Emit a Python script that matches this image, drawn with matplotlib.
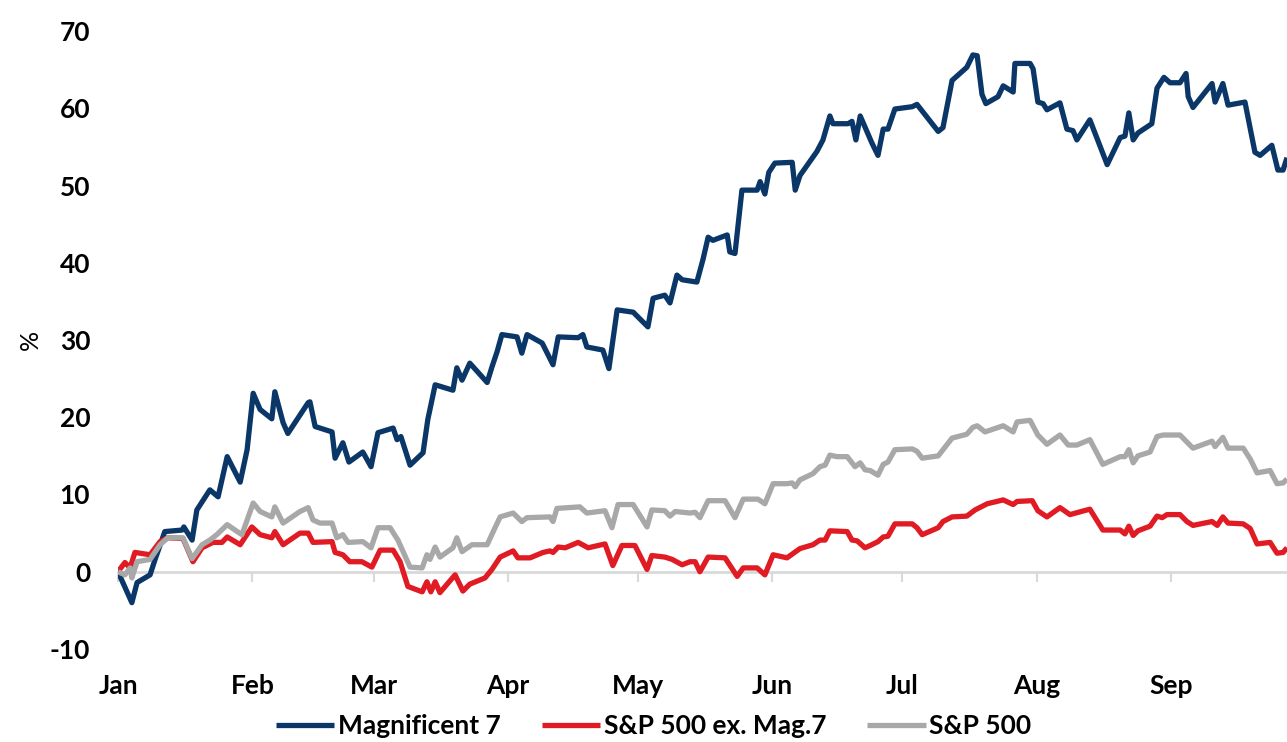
import numpy as np
import pandas as pd
import matplotlib.pyplot as plt
import matplotlib.transforms as mtransforms

plt.rcParams['font.family'] = ['Lato', 'DejaVu Sans']
plt.rcParams['axes.unicode_minus'] = False

# (days since 1 Jan 2023, % change YTD)
mag7 = [(0, 0.0), (3.2, -4.0), (4.4, -1.4), (7.4, -0.4), (8.5, 1.5), (10.8, 5.2), (14.8, 5.4), (15.2, 5.8),
        (17.1, 4.1), (18.2, 8.0), (21.2, 10.6), (23.1, 9.7), (25.2, 14.9), (28.2, 11.6), (29.8, 15.8),
        (31.2, 23.1), (32.8, 21.0), (35.5, 19.8), (36.2, 23.3), (38.1, 19.3), (39.2, 17.9), (43.9, 21.9),
        (44.3, 22.0), (45.5, 18.8), (49.4, 18.1), (50.1, 14.7), (51.9, 16.7), (53.3, 14.2), (56.5, 15.5),
        (58.4, 13.6), (60.0, 18.0), (63.5, 18.6), (64.4, 17.1), (65.3, 17.5), (67.4, 13.8), (70.4, 15.4),
        (71.5, 19.7), (73.2, 24.2), (77.3, 23.5), (78.2, 26.4), (79.4, 24.8), (81.2, 27.0), (85.2, 24.5),
        (86.3, 26.5), (87.5, 28.5), (88.6, 30.7), (92.1, 30.4), (93.2, 28.3), (94.4, 30.7), (97.9, 29.6),
        (100.4, 26.8), (101.6, 30.4), (106.2, 30.3), (107.3, 30.7), (108.2, 29.1), (111.9, 28.7),
        (113.3, 26.3), (115.2, 33.9), (118.9, 33.6), (122.3, 31.7), (123.5, 35.4), (126.2, 35.8),
        (127.4, 34.8), (129.0, 38.4), (130.2, 37.8), (133.6, 37.5), (135.0, 40.4), (136.2, 43.3),
        (137.3, 42.9), (140.6, 43.6), (141.2, 41.4), (142.4, 41.2), (144.0, 49.4), (147.5, 49.4),
        (148.2, 50.5), (149.3, 48.9), (150.2, 51.7), (151.6, 52.9), (155.6, 53.0), (156.3, 49.4),
        (157.4, 51.3), (161.3, 54.4), (162.7, 55.9), (164.3, 59.0), (165.0, 58.0), (168.5, 58.0),
        (169.4, 58.3), (170.3, 55.9), (171.3, 59.0), (174.0, 55.5), (175.4, 53.9), (176.6, 57.3),
        (177.7, 57.3), (179.3, 59.9), (183.3, 60.2), (184.4, 60.5), (189.3, 57.0), (190.4, 57.5),
        (192.5, 63.6), (195.9, 65.3), (197.3, 66.9), (198.3, 66.8), (199.4, 61.8), (200.3, 60.6),
        (203.1, 61.5), (204.3, 62.9), (206.6, 62.1), (207.0, 65.8), (210.5, 65.8), (211.2, 65.1),
        (212.3, 60.8), (213.5, 60.6), (214.4, 59.8), (217.4, 60.7), (219.0, 57.3), (220.4, 57.1),
        (221.3, 55.9), (224.3, 58.5), (228.3, 52.7), (231.3, 56.2), (232.4, 56.4), (233.3, 59.4),
        (234.3, 55.9), (235.4, 56.8), (238.6, 58.0), (239.8, 62.6), (241.4, 64.0), (242.8, 63.3),
        (245.1, 63.3), (246.5, 64.5), (247.0, 61.5), (248.1, 60.1), (252.5, 63.2), (253.2, 60.8),
        (255.0, 63.2), (256.2, 60.4), (260.1, 60.8), (262.4, 54.3), (263.6, 53.9), (266.3, 55.2),
        (267.7, 52.0), (268.9, 52.0), (269.8, 53.6)]

sp500_ex_mag7 = [(0, 0.0), (1.6, 1.2), (2.8, 0.5), (3.9, 2.5), (7.4, 2.2), (9.7, 3.9), (11.5, 4.4), (15.0, 4.3),
                 (17.3, 1.3), (19.4, 3.1), (21.9, 3.8), (24.0, 3.8), (25.2, 4.5), (28.2, 3.5), (30.9, 5.8),
                 (32.8, 4.8), (35.5, 4.4), (36.2, 5.2), (38.1, 3.5), (42.0, 5.0), (43.9, 5.0), (45.0, 3.8),
                 (49.4, 3.9), (50.1, 2.5), (51.9, 2.2), (53.5, 1.3), (56.3, 1.3), (58.6, 0.6), (60.5, 2.8),
                 (63.5, 2.8), (65.1, 1.3), (66.9, -1.9), (70.2, -2.6), (71.3, -1.3), (72.2, -2.6), (73.2, -1.3),
                 (74.3, -2.7), (77.8, -0.4), (79.6, -2.5), (81.2, -1.6), (84.7, -0.8), (86.3, 0.3), (88.2, 1.9),
                 (91.2, 2.7), (92.3, 1.8), (95.1, 1.8), (98.1, 2.5), (99.7, 2.7), (100.4, 2.5), (101.6, 3.2),
                 (103.2, 3.1), (106.2, 3.8), (108.5, 3.1), (112.4, 3.6), (114.2, 0.8), (116.3, 3.4),
                 (119.3, 3.4), (122.1, 0.3), (123.2, 2.1), (126.2, 1.9), (127.9, 1.6), (130.2, 0.9),
                 (132.0, 1.3), (133.2, 1.3), (134.3, 0.0), (136.2, 1.9), (140.1, 1.8), (142.9, -0.6),
                 (144.3, 0.5), (147.5, 0.5), (149.3, -0.4), (151.2, 2.2), (154.4, 1.8), (157.4, 3.0),
                 (160.4, 3.5), (162.0, 4.1), (163.2, 4.1), (164.3, 5.3), (168.3, 5.2), (169.4, 4.1),
                 (170.6, 4.0), (172.4, 3.1), (173.6, 3.4), (175.4, 3.9), (176.6, 4.5), (177.7, 4.6),
                 (179.3, 6.2), (183.3, 6.2), (184.4, 5.7), (185.6, 4.8), (189.3, 5.7), (190.4, 6.5),
                 (192.5, 7.1), (195.9, 7.2), (197.8, 8.0), (200.6, 8.8), (204.3, 9.3), (206.6, 8.7),
                 (207.5, 9.1), (211.0, 9.2), (212.3, 7.9), (214.4, 7.1), (217.4, 8.3), (219.7, 7.4),
                 (224.3, 8.1), (227.3, 5.4), (231.3, 5.4), (232.4, 4.9), (233.3, 5.9), (234.3, 4.7),
                 (235.4, 5.3), (238.2, 5.9), (239.8, 7.2), (241.0, 7.0), (242.1, 7.4), (245.1, 7.4),
                 (246.7, 6.5), (248.1, 6.0), (252.5, 6.5), (253.7, 6.0), (255.0, 7.1), (256.2, 6.3),
                 (259.7, 6.2), (261.3, 5.6), (262.9, 3.6), (265.9, 3.8), (267.5, 2.4), (268.9, 2.5),
                 (269.8, 3.1)]

sp500 = [(0, 0.0), (1.6, -0.4), (2.8, 0.5), (3.2, -0.8), (4.4, 1.3), (7.4, 1.6), (9.7, 3.5), (11.5, 4.4),
         (15.0, 4.4), (17.1, 1.7), (19.4, 3.5), (21.2, 4.1), (22.8, 4.8), (25.2, 6.1), (27.0, 5.4), (28.6, 4.8),
         (31.2, 8.9), (32.8, 7.8), (35.5, 7.1), (36.2, 8.4), (38.1, 6.3), (42.0, 7.8), (43.9, 8.3), (45.0, 6.7),
         (46.6, 6.3), (49.4, 6.3), (50.5, 4.4), (51.9, 4.8), (53.1, 3.8), (56.5, 3.9), (58.4, 3.1), (60.0, 5.7),
         (62.8, 5.7), (64.6, 4.1), (67.4, 0.6), (70.2, 0.5), (71.3, 2.2), (72.0, 1.6), (73.2, 3.2), (74.3, 1.9),
         (77.3, 3.1), (78.2, 4.4), (79.4, 2.6), (81.7, 3.5), (85.2, 3.5), (86.6, 5.2), (88.2, 7.1), (91.2, 7.6),
         (93.2, 6.5), (94.4, 7.0), (99.7, 7.1), (100.4, 6.5), (101.3, 8.2), (106.6, 8.4), (108.2, 7.6),
         (112.4, 7.9), (114.0, 5.7), (115.4, 8.7), (118.9, 8.7), (122.1, 5.8), (123.2, 8.0), (126.2, 7.9),
         (127.4, 7.2), (128.6, 7.8), (132.0, 7.6), (133.2, 7.7), (134.3, 7.0), (136.2, 9.2), (140.1, 9.2),
         (142.4, 7.0), (144.3, 9.4), (147.7, 9.4), (149.3, 8.8), (151.2, 11.4), (154.4, 11.4), (155.6, 11.5),
         (156.3, 11.0), (157.4, 11.9), (160.4, 12.7), (162.0, 13.6), (163.2, 13.8), (164.3, 15.1),
         (165.9, 14.9), (168.3, 14.9), (170.1, 13.6), (171.3, 14.1), (172.4, 13.2), (173.6, 13.1),
         (175.4, 12.5), (176.6, 13.9), (177.7, 14.2), (179.3, 15.8), (183.3, 15.9), (184.4, 15.6),
         (185.6, 14.7), (189.3, 15.0), (192.5, 17.3), (195.9, 17.8), (197.3, 18.7), (198.3, 18.9),
         (200.1, 18.1), (204.3, 18.9), (206.6, 18.1), (207.5, 19.4), (210.5, 19.6), (212.3, 17.7),
         (214.4, 16.5), (217.4, 17.7), (219.3, 16.4), (221.3, 16.4), (224.3, 17.1), (227.3, 13.9),
         (231.3, 14.9), (232.4, 14.9), (233.3, 15.8), (234.3, 14.1), (235.4, 15.0), (238.2, 15.5),
         (239.8, 17.5), (241.2, 17.7), (245.1, 17.7), (248.1, 16.0), (252.5, 16.9), (253.2, 16.2),
         (255.0, 17.4), (256.2, 16.0), (259.7, 16.0), (261.3, 14.6), (262.9, 12.8), (265.9, 13.1),
         (267.5, 11.4), (268.9, 11.5), (269.8, 12.0)]

series_names = ['Magnificent 7', 'S&P 500 ex. Mag.7', 'S&P 500']
month_labels = ['Jan', 'Feb', 'Mar', 'Apr', 'May', 'Jun', 'Jul', 'Aug', 'Sep']
y_ticks = [-10, 0, 10, 20, 30, 40, 50, 60, 70]

start = pd.Timestamp('2023-01-01')


def to_xy(pairs):
    d, v = zip(*pairs)
    return start + pd.to_timedelta(np.array(d), unit='D'), np.array(v)


colors = ['#0a3768', '#e01b24', '#a8a8a8']
W, H = 1287, 742
fig = plt.figure(figsize=(W / 100, H / 100), dpi=100)
ax = fig.add_axes([118 / W, 93 / H, 1169 / W, 618 / H])

for pairs, name, c in zip([mag7, sp500_ex_mag7, sp500], series_names, colors):
    x, y = to_xy(pairs)
    ax.plot(x, y, color=c, lw=3.8, label=name, solid_joinstyle='round', solid_capstyle='butt', zorder=3)

ax.set_xlim(start, start + pd.Timedelta(days=269.8))
ax.set_ylim(-10, 70)
ax.set_yticks(y_ticks)
ax.tick_params(axis='y', length=0, pad=20, labelsize=19)
for lbl in ax.get_yticklabels():
    lbl.set_fontweight('bold')

for s in ['top', 'right', 'left']:
    ax.spines[s].set_visible(False)
ax.spines['bottom'].set_position(('data', 0))
ax.spines['bottom'].set_color('#d9d9d9')
ax.spines['bottom'].set_linewidth(2)
ax.spines['bottom'].set_zorder(1)

month_starts = pd.date_range(start, periods=len(month_labels), freq='MS')
ax.set_xticks(month_starts)
ax.tick_params(axis='x', direction='out', length=7, width=1.5, color='#d9d9d9', labelbottom=False)
trans = mtransforms.blended_transform_factory(ax.transData, ax.transAxes)
for m, lab in zip(month_starts, month_labels):
    ax.text(m, -37 / 618, lab, transform=trans, ha='center', va='center',
            fontsize=19, fontweight='bold', clip_on=False)

fig.text(30 / W, 1 - 340 / H, '%', rotation=90, ha='center', va='center', fontsize=18)

fig.legend(loc='center', bbox_to_anchor=(654 / W, 0.021), ncol=3, frameon=False,
           handlelength=2.2, handletextpad=0.15, columnspacing=1.55,
           prop=dict(weight='bold', size=19))

fig.savefig('out.png', dpi=100)
